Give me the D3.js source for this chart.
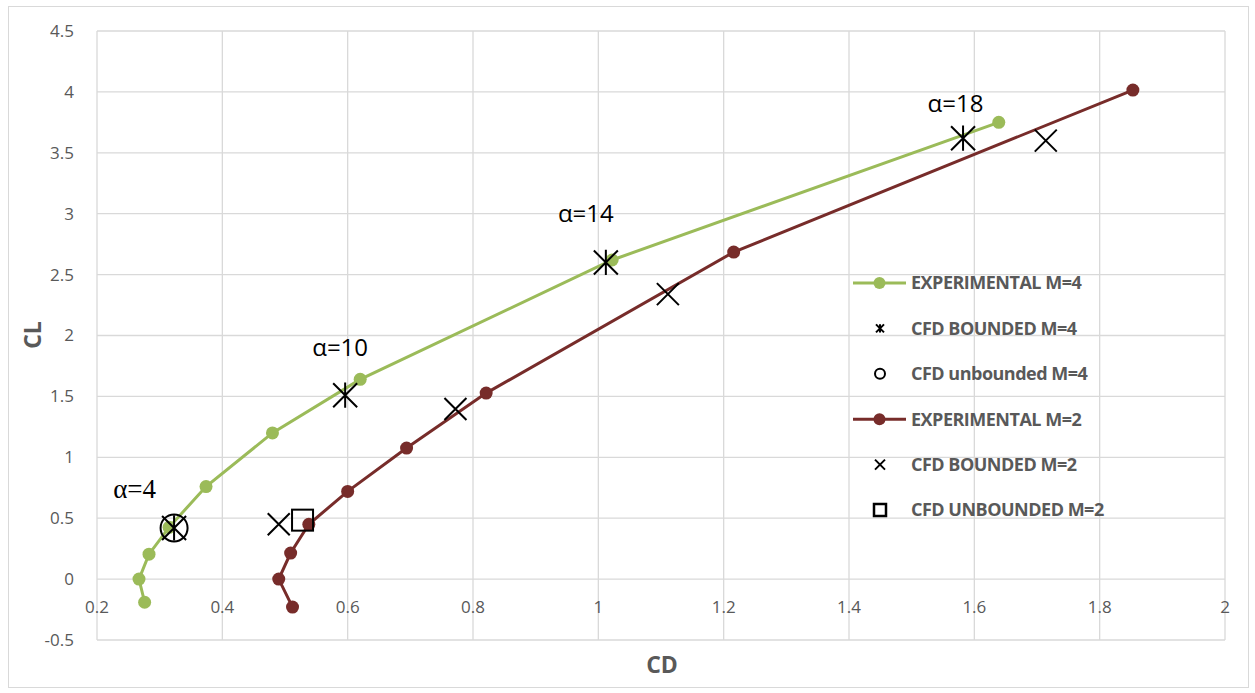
<!DOCTYPE html>
<html>
<head>
<meta charset="utf-8">
<script src="https://cdn.jsdelivr.net/npm/d3@7"></script>
<style>
  body { margin: 0; background: #fff; }
  svg text { font-family: "Open Sans", "Noto Sans", sans-serif; }
</style>
</head>
<body>
<svg id="chart" width="1255" height="693"></svg>
<script>
// experimental curves [CD, CL]
const expM4 = [[0.276, -0.19], [0.267, 0], [0.283, 0.205], [0.315, 0.425], [0.374, 0.76],
  [0.48, 1.2], [0.62, 1.64], [1.022, 2.62], [1.639, 3.75]]
const expM2 = [[0.512, -0.23], [0.49, 0], [0.509, 0.214], [0.538, 0.45], [0.6, 0.72],
  [0.694, 1.076], [0.821, 1.527], [1.216, 2.685], [1.853, 4.015]]

// CFD points
const cfdBoundedM4 = [[0.323, 0.42], [0.596, 1.51], [1.012, 2.6], [1.582, 3.62]]
const cfdUnboundedM4 = [[0.323, 0.42]]
const cfdBoundedM2 = [[0.49, 0.45], [0.772, 1.396], [1.111, 2.34], [1.714, 3.6]]
const cfdUnboundedM2 = [[0.528, 0.484]]

const alphaLabels = ["α=4", "α=10", "α=14", "α=18"]
const alphaPos = [[0.26, 0.74], [0.588, 1.9], [0.98, 3.0], [1.57, 3.9]]

const xTicks = [0.2, 0.4, 0.6, 0.8, 1, 1.2, 1.4, 1.6, 1.8, 2]
const yTicks = [-0.5, 0, 0.5, 1, 1.5, 2, 2.5, 3, 3.5, 4, 4.5]

const legendNames = ["EXPERIMENTAL M=4", "CFD BOUNDED M=4", "CFD unbounded M=4",
  "EXPERIMENTAL M=2", "CFD BOUNDED M=2", "CFD UNBOUNDED M=2"]

const green = "#9bbb59", red = "#772c2a", grid = "#d9d9d9", txt = "#595959"

const svg = d3.select("#chart")

svg.append("rect")
  .attr("x", 8.5).attr("y", 6.5).attr("width", 1240).attr("height", 681)
  .style("fill", "#fff").style("stroke", grid)

const x = d3.scaleLinear().domain([0.2, 2]).range([97, 1225])
const y = d3.scaleLinear().domain([-0.5, 4.5]).range([640, 31])

// gridlines
svg.append("g").selectAll("line").data(xTicks).join("line")
  .attr("x1", d => x(d)).attr("x2", d => x(d))
  .attr("y1", y(4.5)).attr("y2", y(-0.5))
  .style("stroke", grid).style("stroke-width", 1.3)
svg.append("g").selectAll("line").data(yTicks).join("line")
  .attr("x1", x(0.2)).attr("x2", x(2))
  .attr("y1", d => y(d)).attr("y2", d => y(d))
  .style("stroke", grid).style("stroke-width", 1.3)

// tick labels
svg.append("g").selectAll("text").data(yTicks).join("text")
  .attr("x", 74).attr("y", d => y(d)).attr("dy", "0.35em")
  .attr("text-anchor", "end").style("font-size", "17px").style("fill", txt)
  .text(d => d)
svg.append("g").selectAll("text").data(xTicks).join("text")
  .attr("x", d => x(d)).attr("y", y(0) + 28).attr("dy", "0.35em")
  .attr("text-anchor", "middle").style("font-size", "17px").style("fill", txt)
  .text(d => d)

// axis titles
svg.append("text").attr("x", 662).attr("y", 673)
  .attr("text-anchor", "middle").style("font-size", "23px").style("font-weight", "bold")
  .style("fill", txt).text("CD")
svg.append("text").attr("transform", "translate(41,335) rotate(-90)")
  .attr("text-anchor", "middle").style("font-size", "23px").style("font-weight", "bold")
  .style("fill", txt).text("CL")

const line = d3.line().x(d => x(d[0])).y(d => y(d[1]))

function expSeries(data, color) {
  svg.append("path").datum(data).attr("d", line)
    .style("fill", "none").style("stroke", color).style("stroke-width", 3)
  svg.append("g").selectAll("circle").data(data).join("circle")
    .attr("cx", d => x(d[0])).attr("cy", d => y(d[1])).attr("r", 6.5)
    .style("fill", color)
}
expSeries(expM4, green)
expSeries(expM2, red)

function crossPath(s) {
  return `M${-s},${-s}L${s},${s}M${-s},${s}L${s},${-s}`
}
function starPath(s) {
  return crossPath(s) + `M0,${-s * 1.05}L0,${s * 1.05}`
}

// markers
svg.append("g").selectAll("path").data(cfdBoundedM4).join("path")
  .attr("transform", d => `translate(${x(d[0])},${y(d[1])})`)
  .attr("d", starPath(12)).style("stroke", "#000").style("stroke-width", 2).style("fill", "none")
svg.append("g").selectAll("circle").data(cfdUnboundedM4).join("circle")
  .attr("cx", d => x(d[0])).attr("cy", d => y(d[1])).attr("r", 13.5)
  .style("stroke", "#000").style("stroke-width", 2).style("fill", "none")
svg.append("g").selectAll("path").data(cfdBoundedM2).join("path")
  .attr("transform", d => `translate(${x(d[0])},${y(d[1])})`)
  .attr("d", crossPath(11)).style("stroke", "#000").style("stroke-width", 2).style("fill", "none")
svg.append("g").selectAll("rect").data(cfdUnboundedM2).join("rect")
  .attr("x", d => x(d[0]) - 10.5).attr("y", d => y(d[1]) - 10.5)
  .attr("width", 21).attr("height", 21)
  .style("stroke", "#000").style("stroke-width", 2).style("fill", "none")

// alpha annotations
svg.append("g").selectAll("text").data(alphaLabels).join("text")
  .attr("x", (d, i) => x(alphaPos[i][0])).attr("y", (d, i) => y(alphaPos[i][1]))
  .attr("dy", "0.35em").attr("text-anchor", "middle")
  .style("font-size", (d, i) => i === 0 ? "27px" : "24px").style("fill", "#000")
  .style("font-family", (d, i) => i === 0 ? "'Liberation Serif', serif" : null)
  .text(d => d)

// legend
const leg = svg.append("g").attr("transform", "translate(853,283)")
const rows = leg.selectAll("g").data(legendNames).join("g")
  .attr("transform", (d, i) => `translate(0,${i * 45.4})`)
rows.append("text").attr("x", 58).attr("dy", "0.35em")
  .style("font-size", "18px").style("font-weight", "bold").style("fill", txt)
  .style("font-family", "'Open Sans', sans-serif").style("letter-spacing", "-0.5px")
  .text(d => d)
rows.each(function (d, i) {
  const g = d3.select(this)
  if (i === 0 || i === 3) {
    const c = i === 0 ? green : red
    g.append("line").attr("x1", 0).attr("x2", 53)
      .style("stroke", c).style("stroke-width", 3)
    g.append("circle").attr("cx", 26.5).attr("r", 6).style("fill", c)
  } else if (i === 1) {
    g.append("path").attr("transform", "translate(27,0)").attr("d", starPath(4))
      .style("stroke", "#000").style("stroke-width", 2)
  } else if (i === 2) {
    g.append("circle").attr("cx", 27).attr("r", 5)
      .style("stroke", "#000").style("stroke-width", 2).style("fill", "none")
  } else if (i === 4) {
    g.append("path").attr("transform", "translate(27,0)").attr("d", crossPath(5))
      .style("stroke", "#000").style("stroke-width", 2)
  } else {
    g.append("rect").attr("x", 21).attr("y", -6).attr("width", 12).attr("height", 12)
      .style("stroke", "#000").style("stroke-width", 2.5).style("fill", "none")
  }
})
</script>
</body>
</html>
